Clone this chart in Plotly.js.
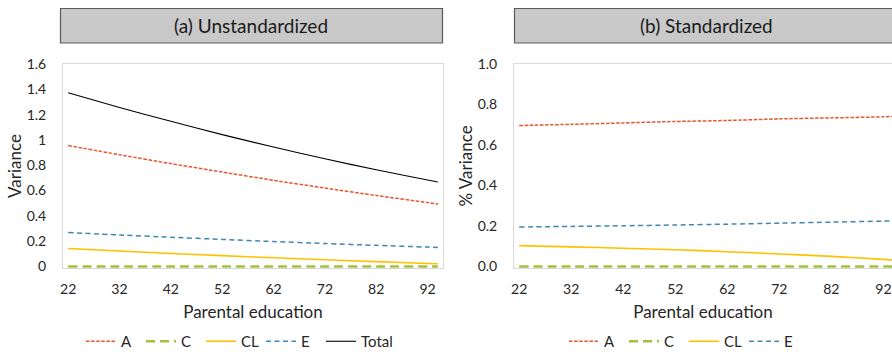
<!DOCTYPE html>
<html>
<head>
<meta charset="utf-8">
<script src="https://cdn.plot.ly/plotly-3.0.1.min.js"></script>
<style>html,body{margin:0;padding:0;background:#fff;overflow:hidden;width:892px;height:352px}</style>
</head>
<body>
<div id="chart" style="width:892px;height:380px"></div>
<script>
// Parental education values
const education = [22, 32, 42, 52, 62, 72, 82, 92, 94];
// (a) Unstandardized variance components
const unstdA     = [0.956, 0.883, 0.813, 0.746, 0.681, 0.620, 0.561, 0.505, 0.494];
const unstdC     = [0, 0, 0, 0, 0, 0, 0, 0, 0];
const unstdCL    = [0.142, 0.122, 0.103, 0.086, 0.069, 0.053, 0.038, 0.024, 0.021];
const unstdE     = [0.268, 0.249, 0.231, 0.214, 0.197, 0.182, 0.167, 0.153, 0.150];
const unstdTotal = [1.373, 1.257, 1.147, 1.042, 0.944, 0.851, 0.764, 0.683, 0.667];
// (b) Standardized (% variance)
const stdA  = [0.696, 0.702, 0.709, 0.716, 0.721, 0.729, 0.734, 0.739, 0.741];
const stdC  = [0, 0, 0, 0, 0, 0, 0, 0, 0];
const stdCL = [0.103, 0.097, 0.090, 0.083, 0.073, 0.062, 0.050, 0.035, 0.031];
const stdE  = [0.195, 0.198, 0.201, 0.205, 0.209, 0.214, 0.219, 0.224, 0.225];

const xTicks = [22, 32, 42, 52, 62, 72, 82, 92];
const panelTitles = ["(a) Unstandardized", "(b) Standardized"];

const FONT = "Lato, 'Open Sans', sans-serif";
const styles = {
  A:     {color: "#E8562A", width: 1.5, dash: "3.5px,1.6px"},
  C:     {color: "#A2C23F", width: 2.4, dash: "9px,5px"},
  CL:    {color: "#FFC000", width: 1.6, dash: "solid"},
  E:     {color: "#3F86B4", width: 1.5, dash: "5px,3.5px"},
  Total: {color: "#000000", width: 1.1, dash: "solid"}
};

function tr(name, y, xa, ya, leg) {
  return {x: education, y: y, name: name, type: "scatter", mode: "lines",
          line: Object.assign({shape: "spline", smoothing: 0.6}, styles[name]),
          xaxis: xa, yaxis: ya, legend: leg, hoverinfo: "x+y+name"};
}

const data = [
  tr("A", unstdA, "x", "y", "legend"),
  tr("C", unstdC, "x", "y", "legend"),
  tr("CL", unstdCL, "x", "y", "legend"),
  tr("E", unstdE, "x", "y", "legend"),
  tr("Total", unstdTotal, "x", "y", "legend3"),
  tr("A", stdA, "x2", "y2", "legend2"),
  tr("C", stdC, "x2", "y2", "legend2"),
  tr("CL", stdCL, "x2", "y2", "legend2"),
  tr("E", stdE, "x2", "y2", "legend2")
];

// figure is drawn a little taller than the 352px window so the bottom legend is not squeezed
const W = 892, H = 380;
const px = v => v / W, py = v => 1 - v / H;

const TXT = "#262626";
const axisCommon = {
  showgrid: false, zeroline: false, ticks: "", showline: true, mirror: true,
  linecolor: "#D9D9D9", linewidth: 1, layer: "below traces",
  tickfont: {family: FONT, size: 14, color: TXT}
};
const xTitle = {text: "Parental education", font: {family: FONT, size: 17, color: TXT}, standoff: 10};
const legendCommon = {orientation: "h", xanchor: "left", y: py(341.5), yanchor: "middle",
  font: {family: FONT, size: 15, color: TXT}, bgcolor: "rgba(0,0,0,0)", itemwidth: 30,
  entrywidth: 15, entrywidthmode: "pixels", traceorder: "normal"};

const layout = {
  width: W, height: H,
  margin: {l: 0, r: 0, t: 0, b: 0},
  paper_bgcolor: "#fff", plot_bgcolor: "#fff",
  font: {family: FONT, color: TXT},
  showlegend: true,
  xaxis: Object.assign({}, axisCommon, {domain: [px(63), px(443)], range: [21, 95],
    tickvals: xTicks, ticklabelstandoff: 8, title: xTitle, anchor: "y"}),
  yaxis: Object.assign({}, axisCommon, {domain: [py(268), py(64)], range: [-0.012, 1.6], dtick: 0.2,
    tick0: 0, ticklabelstandoff: 13, anchor: "x",
    title: {text: "Variance", font: {family: FONT, size: 17, color: TXT}, standoff: 0}}),
  xaxis2: Object.assign({}, axisCommon, {domain: [px(514), 1], range: [21, 93.65],
    tickvals: xTicks, ticklabelstandoff: 8, title: xTitle, anchor: "y2"}),
  yaxis2: Object.assign({}, axisCommon, {domain: [py(268), py(64)], range: [-0.0075, 1.0], dtick: 0.2,
    tick0: 0, tickformat: ".1f", ticklabelstandoff: 13, anchor: "x2",
    title: {text: "% Variance", font: {family: FONT, size: 17, color: TXT}, standoff: 0}}),
  legend: Object.assign({}, legendCommon, {x: px(81)}),
  legend2: Object.assign({}, legendCommon, {x: px(564)}),
  legend3: Object.assign({}, legendCommon, {x: px(321), entrywidth: 0}),
  shapes: [
    {type: "rect", xref: "paper", yref: "paper", x0: px(60.5), x1: px(442.5), y0: py(43), y1: py(8.5),
     fillcolor: "#C9C9C9", line: {color: "#5A5A5A", width: 1.2}, layer: "below"},
    {type: "rect", xref: "paper", yref: "paper", x0: px(514.5), x1: px(900), y0: py(43), y1: py(8.5),
     fillcolor: "#C9C9C9", line: {color: "#5A5A5A", width: 1.2}, layer: "below"}
  ],
  annotations: [
    {text: panelTitles[0], xref: "paper", yref: "paper", x: px(251), y: py(26), showarrow: false,
     xanchor: "center", yanchor: "middle", font: {family: FONT, size: 19, color: "#1a1a1a"}},
    {text: panelTitles[1], xref: "paper", yref: "paper", x: px(706), y: py(26), showarrow: false,
     xanchor: "center", yanchor: "middle", font: {family: FONT, size: 19, color: "#1a1a1a"}}
  ]
};

Plotly.newPlot("chart", data, layout, {displayModeBar: false, staticPlot: true});
</script>
</body>
</html>
